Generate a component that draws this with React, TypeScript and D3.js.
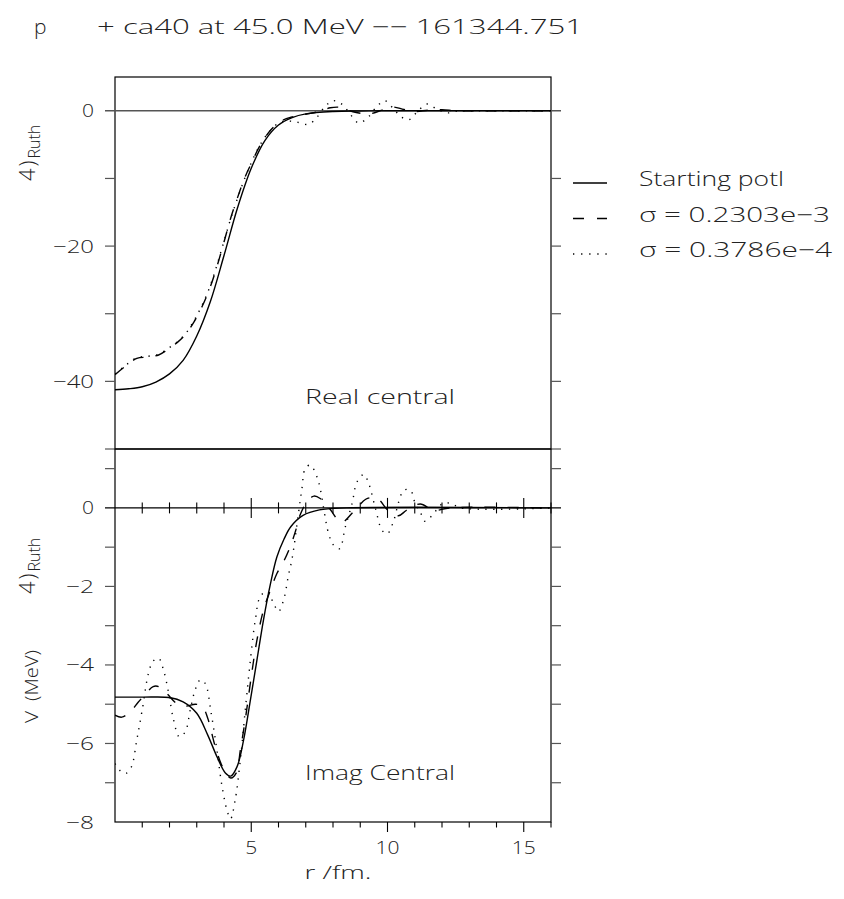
import React from "react";
import * as d3 from "d3";

// ---------- data ----------
const xTicks = [5, 10, 15];
const topYTicks = [0, -20, -40];
const topMinorTicks = [-10, -20, -30, -40, -50];
const botYTicks = [0, -2, -4, -6, -8];
const botMinorTicks = [1, -1, -2, -3, -4, -5, -6, -7];
const legendLabels = ["Starting potl", "σ = 0.2303e−3", "σ = 0.3786e−4"];

// Real central
const realStartR = [0, 0.5, 1.0, 1.5, 2.0, 2.5, 3.0, 3.5, 4.0, 4.5, 5.0, 5.5, 6.0, 6.5, 7.0, 8.0, 9.0, 10, 12, 16];
const realStartV = [-41.25, -41.1, -40.8, -40.1, -38.9, -36.9, -33.3, -28.2, -21.4, -14.3, -8.5, -4.4, -2.1, -1.0, -0.45, -0.1, -0.02, 0, 0, 0];

const realDashR = [0, 0.4, 0.8, 1.2, 1.6, 2.0, 2.3, 2.6, 2.9, 3.2, 3.5, 3.75, 4.0, 4.25, 4.5, 4.75, 5.0, 5.3, 5.7, 6.1, 6.5, 7.0, 7.5, 7.9, 8.3, 8.7, 9.1, 9.4, 9.8, 10.2, 10.6, 11.0, 11.5, 12.0, 12.5, 13, 16];
const realDashV = [-39.0, -37.7, -36.6, -36.4, -36.1, -35.1, -34.2, -33.0, -31.2, -28.9, -26.0, -22.9, -19.4, -15.8, -12.8, -10.0, -7.8, -5.3, -2.9, -1.5, -0.9, -0.5, -0.1, 0.45, 0.5, -0.1, -0.4, -0.4, 0.1, 0.55, 0.2, -0.1, 0.1, 0.15, 0, 0, 0];

const realDotR = [0, 0.4, 0.8, 1.2, 1.6, 2.0, 2.3, 2.6, 2.9, 3.2, 3.5, 3.75, 4.0, 4.25, 4.5, 4.75, 5.0, 5.3, 5.7, 6.1, 6.6, 7.1, 7.4, 7.7, 8.0, 8.35, 8.65, 8.95, 9.3, 9.6, 9.9, 10.2, 10.5, 10.8, 11.1, 11.45, 11.8, 12.2, 12.6, 13, 16];
const realDotV = [-38.9, -37.6, -36.5, -36.3, -36.0, -35.0, -34.1, -32.9, -31.0, -28.7, -25.8, -22.7, -19.3, -15.9, -12.9, -10.1, -7.7, -5.2, -2.9, -1.6, -1.6, -2.0, -1.0, 0.6, 1.5, 0.9, -0.6, -1.8, -0.9, 0.6, 1.5, 0.4, -0.9, -1.3, -0.1, 1.0, 0.3, -0.3, 0, 0, 0];

// Imag central
const imagStartR = [0, 1, 2, 2.5, 3.0, 3.4, 3.75, 4.05, 4.25, 4.48, 4.72, 4.97, 5.21, 5.45, 5.7, 5.94, 6.2, 6.45, 6.9, 7.5, 8.5, 16];
const imagStartV = [-4.82, -4.82, -4.83, -4.94, -5.23, -5.78, -6.35, -6.75, -6.83, -6.59, -5.91, -4.89, -3.87, -2.85, -1.95, -1.25, -0.8, -0.48, -0.19, -0.05, 0, 0];

const imagDashR = [0, 0.25, 0.55, 0.85, 1.05, 1.4, 1.6, 1.9, 2.3, 2.6, 2.95, 3.2, 3.4, 3.68, 3.95, 4.25, 4.45, 4.6, 4.8, 5.0, 5.2, 5.45, 5.7, 5.95, 6.2, 6.45, 6.62, 6.8, 7.05, 7.3, 7.53, 7.9, 8.3, 8.75, 9.2, 9.45, 9.7, 10.0, 10.4, 10.7, 11.2, 11.7, 12.3, 16];
const imagDashV = [-5.28, -5.33, -5.2, -4.95, -4.8, -4.55, -4.55, -4.73, -5.0, -5.05, -5.0, -5.05, -5.35, -6.08, -6.6, -6.88, -6.75, -6.17, -5.3, -4.3, -3.4, -2.6, -2.1, -1.66, -1.35, -0.95, -0.6, -0.17, 0.16, 0.3, 0.24, -0.04, -0.37, -0.1, 0.22, 0.26, 0.2, -0.05, -0.2, -0.06, 0.1, -0.06, 0, 0];

const imagDotR = [0, 0.2, 0.4, 0.6, 0.8, 1.0, 1.23, 1.4, 1.6, 1.78, 1.97, 2.15, 2.36, 2.58, 2.76, 2.94, 3.13, 3.31, 3.53, 3.74, 3.93, 4.11, 4.24, 4.41, 4.6, 4.78, 4.97, 5.15, 5.33, 5.58, 5.82, 6.0, 6.19, 6.37, 6.5, 6.74, 6.86, 6.98, 7.17, 7.41, 7.53, 7.84, 8.02, 8.24, 8.45, 8.7, 8.88, 9.13, 9.31, 9.56, 9.8, 9.99, 10.23, 10.41, 10.6, 10.84, 11.02, 11.2, 11.37, 11.64, 12.0, 12.3, 12.7, 16];
const imagDotV = [-6.51, -6.7, -6.76, -6.6, -5.91, -5.14, -4.21, -3.9, -3.83, -4.13, -4.72, -5.4, -5.83, -5.7, -5.15, -4.64, -4.38, -4.47, -5.23, -6.17, -7.1, -7.7, -7.92, -7.44, -6.42, -5.15, -3.87, -2.85, -2.26, -2.13, -2.43, -2.64, -2.34, -1.7, -1.29, -0.1, 0.49, 1.0, 1.09, 0.79, 0.49, -0.66, -0.95, -1.04, -0.49, 0.11, 0.66, 0.85, 0.62, -0.02, -0.57, -0.66, -0.32, 0.15, 0.45, 0.45, 0.11, -0.1, -0.34, -0.19, 0.1, 0.12, 0, 0];

// ---------- layout ----------
const W = 844;
const H = 899;
const X0 = 115, X1 = 551;
const TOP0 = 77, MID = 449, BOT = 822;

const FONT = "'Open Sans', 'DejaVu Sans', sans-serif";
const TXT = "#222";

const DASH = "11 12";
const DOT = "1.3 6.5";

function T(props: any) {
  const { len, children, ...rest } = props;
  return (
    <text fill={TXT} fontWeight={300} textLength={len} lengthAdjust="spacingAndGlyphs" {...rest}>
      {children}
    </text>
  );
}

function tickLabel(v: number) {
  return v < 0 ? "−" + Math.abs(v) : String(v);
}

function RuthLabel({ x, y }: { x: number; y: number }) {
  return (
    <text transform={`translate(${x},${y}) rotate(-90)`} fill={TXT} fontWeight={300}>
      <tspan fontSize={22} letterSpacing={2}>4)</tspan>
      <tspan fontSize={16} dy={5}>Ruth</tspan>
    </text>
  );
}

export default function App() {
  const x = d3.scaleLinear().domain([0, 16]).range([X0, X1]);
  const yTop = d3.scaleLinear().domain([-50, 5]).range([MID, TOP0]);
  const yBot = d3.scaleLinear().domain([-8, 1.5]).range([BOT, MID]);

  const mk = (R: number[], V: number[]) => R.map((r, i) => [r, V[i]] as [number, number]);
  const lineTop = d3
    .line<[number, number]>()
    .x((d) => x(d[0]))
    .y((d) => yTop(d[1]))
    .curve(d3.curveCatmullRom.alpha(0.5));
  const lineBot = d3
    .line<[number, number]>()
    .x((d) => x(d[0]))
    .y((d) => yBot(d[1]))
    .curve(d3.curveCatmullRom.alpha(0.5));

  const minorX = d3.range(1, 17);
  const dashes = [undefined, DASH, DOT];

  const topSeries = [mk(realStartR, realStartV), mk(realDashR, realDashV), mk(realDotR, realDotV)];
  const botSeries = [mk(imagStartR, imagStartV), mk(imagDashR, imagDashV), mk(imagDotR, imagDotV)];

  const yLabLen = (s: string) => (s.length === 1 ? 12 : s.length === 2 ? 28 : 41);
  const xLabLen = (s: string) => (s.length === 1 ? 12 : 24);
  const legLen = [145, 191, 193];

  return (
    <svg
      width={W}
      height={H}
      viewBox={`0 0 ${W} ${H}`}
      style={{ position: "absolute", left: 0, top: 0, background: "#fff" }}
      fontFamily={FONT}
    >
      <defs>
        <clipPath id="clipTop">
          <rect x={X0} y={TOP0} width={X1 - X0} height={MID - TOP0} />
        </clipPath>
        <clipPath id="clipBot">
          <rect x={X0} y={MID} width={X1 - X0} height={BOT - MID} />
        </clipPath>
      </defs>
      <rect x={0} y={0} width={W} height={H} fill="#fff" />

      {/* title */}
      <T x={34} y={34} fontSize={21}>p</T>
      <T x={97} y={34} fontSize={20} len={486}>
        + ca40 at 45.0 MeV −− 161344.751
      </T>

      {/* ---------- top panel ---------- */}
      <rect x={X0} y={TOP0} width={X1 - X0} height={MID - TOP0} fill="none" stroke="#000" strokeWidth={1.2} />
      <line x1={X0 - 10} x2={X1 + 10} y1={yTop(0)} y2={yTop(0)} stroke="#555" strokeWidth={1.4} />
      {topMinorTicks.map((v) => (
        <g key={"tt" + v}>
          <line x1={X0 - 10} x2={X0} y1={yTop(v)} y2={yTop(v)} stroke="#555" strokeWidth={1.2} />
          <line x1={X1} x2={X1 + 10} y1={yTop(v)} y2={yTop(v)} stroke="#555" strokeWidth={1.2} />
        </g>
      ))}
      {topYTicks.map((v) => {
        const s = tickLabel(v);
        return (
          <T key={"tl" + v} x={94} y={yTop(v) + 6.5} fontSize={18} textAnchor="end" len={yLabLen(s)}>
            {s}
          </T>
        );
      })}
      <g clipPath="url(#clipTop)">
        {topSeries.map((s, i) => (
          <path key={"ts" + i} d={lineTop(s) || ""} fill="none" stroke="#000" strokeWidth={1.4} strokeDasharray={dashes[i]} />
        ))}
      </g>
      <T x={305} y={404} fontSize={20} len={150}>Real central</T>

      {/* ---------- bottom panel ---------- */}
      <rect x={X0} y={MID} width={X1 - X0} height={BOT - MID} fill="none" stroke="#000" strokeWidth={1.2} />
      <line x1={X0 - 10} x2={X1 + 10} y1={yBot(0)} y2={yBot(0)} stroke="#000" strokeWidth={1.3} />
      {botMinorTicks.map((v) => (
        <g key={"bt" + v}>
          <line x1={X0 - 10} x2={X0} y1={yBot(v)} y2={yBot(v)} stroke="#555" strokeWidth={1.2} />
          <line x1={X1} x2={X1 + 10} y1={yBot(v)} y2={yBot(v)} stroke="#555" strokeWidth={1.2} />
        </g>
      ))}
      {botYTicks.map((v) => {
        const s = tickLabel(v);
        return (
          <T key={"bl" + v} x={94} y={yBot(v) + 6.5} fontSize={18} textAnchor="end" len={yLabLen(s)}>
            {s}
          </T>
        );
      })}
      {/* ticks across zero line */}
      {minorX.map((v) => {
        const h = v % 5 === 0 ? 10 : 5.5;
        return <line key={"zx" + v} x1={x(v)} x2={x(v)} y1={yBot(0) - h} y2={yBot(0) + h} stroke="#000" strokeWidth={1.1} />;
      })}
      {/* bottom axis ticks */}
      {minorX.map((v) => (
        <line key={"bx" + v} x1={x(v)} x2={x(v)} y1={BOT} y2={BOT + (v % 5 === 0 ? 10 : 5.5)} stroke="#000" strokeWidth={1.1} />
      ))}
      {xTicks.map((v) => {
        const s = String(v);
        return (
          <T key={"xl" + v} x={x(v)} y={854} fontSize={18} textAnchor="middle" len={xLabLen(s)}>
            {s}
          </T>
        );
      })}
      <T x={338} y={879} fontSize={19} textAnchor="middle" len={67}>r /fm.</T>

      <g clipPath="url(#clipBot)">
        {botSeries.map((s, i) => (
          <path key={"bs" + i} d={lineBot(s) || ""} fill="none" stroke="#000" strokeWidth={1.4} strokeDasharray={dashes[i]} />
        ))}
      </g>
      <T x={305} y={780} fontSize={20} len={150}>Imag Central</T>

      {/* y axis labels (rotated) */}
      <RuthLabel x={35} y={181} />
      <RuthLabel x={35} y={594} />
      <T transform="translate(38,723) rotate(-90)" fontSize={19} len={12}>V</T>
      <T transform="translate(38,701) rotate(-90)" fontSize={19} len={51}>(MeV)</T>

      {/* legend */}
      {legendLabels.map((lab, i) => {
        const yy = 183 + i * 35.5;
        return (
          <g key={"lg" + i}>
            <line x1={573} x2={607} y1={yy} y2={yy} stroke="#000" strokeWidth={1.3} strokeDasharray={i === 1 ? "11 13" : i === 2 ? "1.3 6.8" : undefined} />
            <T x={639} y={yy + 3} fontSize={20} len={legLen[i]}>{lab}</T>
          </g>
        );
      })}
    </svg>
  );
}
